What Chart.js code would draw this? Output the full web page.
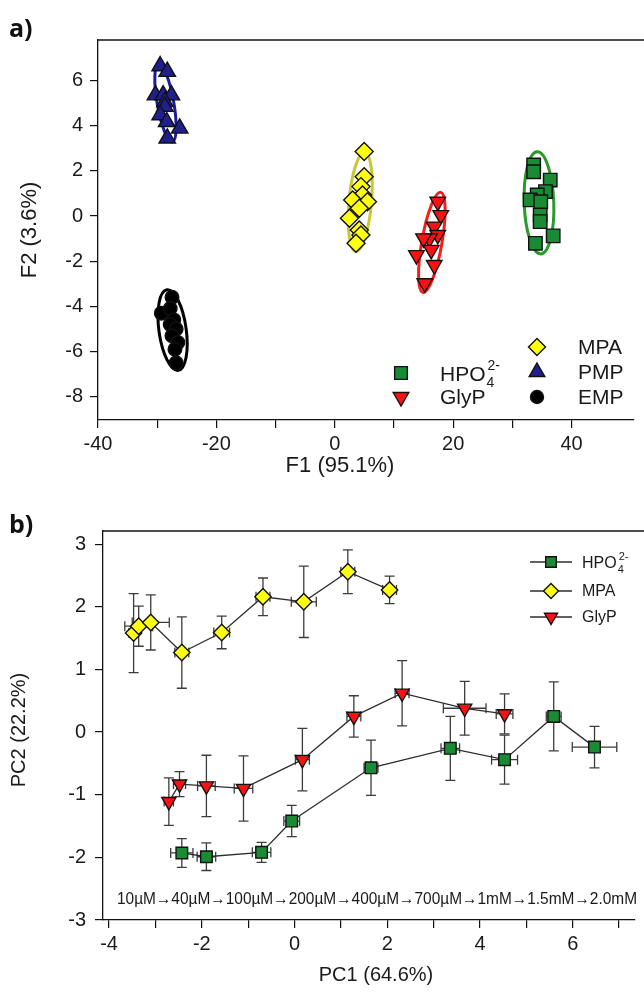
<!DOCTYPE html>
<html>
<head>
<meta charset="utf-8">
<script src="https://cdn.jsdelivr.net/npm/chart.js@4.4.0/dist/chart.umd.min.js"></script>
<style>
html, body { margin: 0; padding: 0; background: #fff; }
#wrap { position: relative; width: 644px; height: 994px; overflow: hidden; }
#chartA { position: absolute; left: 0; top: 0; }
#chartB { position: absolute; left: 0; top: 495px; }
</style>
</head>
<body>
<div id="wrap">
<canvas id="chartA" width="644" height="495"></canvas>
<canvas id="chartB" width="644" height="499"></canvas>
</div>
<script>
// ---------------------------------------------------------------
// a) LDA scores (F1, F2)
var hpoF1  = [33.6, 33.6, 36.4, 35.6, 34.2, 33.0, 34.8, 34.7, 34.7, 36.9, 33.9];
var hpoF2  = [2.26, 1.96, 1.59, 1.08, 0.93, 0.71, 0.63, 0.04, -0.25, -0.88, -1.21];
var glypF1 = [17.4, 17.9, 16.8, 17.4, 16.0, 15.0, 16.3, 13.8, 16.8, 15.2];
var glypF2 = [0.63, 0.04, -0.47, -0.84, -0.99, -0.99, -1.5, -1.73, -2.17, -2.98];
var mpaF1  = [4.97, 4.97, 4.42, 4.69, 3.03, 5.52, 4.14, 2.48, 4.14, 4.42, 3.59];
var mpaF2  = [2.85, 1.74, 1.30, 0.93, 0.71, 0.63, 0.34, -0.10, -0.62, -0.84, -1.21];
var pmpF1  = [-29.5, -28.3, -30.3, -29.0, -27.6, -28.7, -28.7, -29.5, -28.4, -26.2, -28.3];
var pmpF2  = [6.64, 6.39, 5.35, 5.35, 5.35, 5.06, 4.84, 4.47, 4.17, 3.88, 3.44];
var empF1  = [-29.3, -27.5, -27.8, -27.2, -27.8, -26.8, -27.5, -26.5, -27.0, -26.8];
var empF2  = [-4.3, -3.6, -4.1, -4.6, -4.8, -5.0, -5.3, -5.6, -5.9, -6.5];

// confidence ellipses: HPO4, GlyP, MPA, PMP, EMP
var ellipseF1     = [34.5, 16.4, 4.3, -28.6, -27.4];
var ellipseF2     = [0.58, -1.17, 0.62, 5.0, -5.05];
var ellipseHalfF1 = [2.5, 1.7, 1.9, 1.4, 2.3];
var ellipseHalfF2 = [2.26, 2.25, 2.2, 1.75, 1.8];
var ellipseTilt   = [-2, 10, 5, -10, -8];   // degrees

var xTicksA = [-40, -20, 0, 20, 40];
var xMinorA = [-30, -10, 10, 30];
var yTicksA = [-8, -6, -4, -2, 0, 2, 4, 6];

// b) PCA scores, 10uM -> 2.0mM
var concLabels = ['10\u00b5M', '40\u00b5M', '100\u00b5M', '200\u00b5M', '400\u00b5M', '700\u00b5M', '1mM', '1.5mM', '2.0mM'];
var hpoPC1    = [-2.43, -1.90, -0.71, -0.06, 1.65, 3.36, 4.53, 5.59, 6.47];
var hpoPC2    = [-1.93, -1.99, -1.92, -1.42, -0.57, -0.26, -0.44, 0.25, -0.24];
var hpoErrPC1 = [0.24, 0.2, 0.2, 0.17, 0.15, 0.2, 0.28, 0.16, 0.48];
var hpoErrPC2 = [0.23, 0.22, 0.16, 0.25, 0.44, 0.51, 0.39, 0.55, 0.33];
var mpaPC1    = [-3.47, -3.36, -3.10, -2.43, -1.57, -0.68, 0.20, 1.15, 2.05];
var mpaPC2    = [1.58, 1.69, 1.75, 1.27, 1.59, 2.16, 2.08, 2.56, 2.27];
var mpaErrPC1 = [0.1, 0.3, 0.4, 0.15, 0.17, 0.15, 0.27, 0.15, 0.15];
var mpaErrPC2 = [0.63, 0.32, 0.44, 0.57, 0.26, 0.3, 0.57, 0.35, 0.22];
var glypPC1    = [-2.71, -2.48, -1.90, -1.10, 0.17, 1.28, 2.32, 3.67, 4.53];
var glypPC2    = [-1.11, -0.83, -0.86, -0.90, -0.44, 0.25, 0.62, 0.38, 0.29];
var glypErrPC1 = [0.1, 0.13, 0.19, 0.2, 0.15, 0.15, 0.15, 0.46, 0.18];
var glypErrPC2 = [0.38, 0.2, 0.49, 0.52, 0.5, 0.33, 0.52, 0.43, 0.32];

var xTicksB = [-4, -2, 0, 2, 4, 6];
var xMinorB = [-3, -1, 1, 3, 5, 7];
var yTicksB = [-3, -2, -1, 0, 1, 2, 3];

// ---------------------------------------------------------------
var FONT = '"Liberation Sans", Arial, sans-serif';
var GREEN = '#1b8a35', RED = '#ff1010', YELLOW = '#ffff10', NAVY = '#1f1f8f';

var _points = function( xs, ys, xe, ye ){
    var out = [], i;
    for( i = 0; i < xs.length; i++ ){
        out.push({ x: xs[i], y: ys[i], xErr: xe ? xe[i] : 0, yErr: ye ? ye[i] : 0 });
    }
    return out;
};

var _tickList = function( major, minor ){
    return major.concat(minor).sort(function(a, b){ return a - b; }).map(function(v){ return { value: v }; });
};

// HPO4 with subscript 4 and superscript 2-
var _drawFormula = function( ctx, x, y, size ){
    ctx.font = size + 'px ' + FONT;
    ctx.textAlign = 'left';
    ctx.textBaseline = 'alphabetic';
    ctx.fillText('HPO', x, y);
    var w = ctx.measureText('HPO').width + 1;
    ctx.font = Math.round(size * 0.68) + 'px ' + FONT;
    ctx.fillText('4', x + w, y + size * 0.3);
    ctx.fillText('2-', x + w + 1, y - size * 0.5);
};

var _axisCommon = function( size ){
    return {
        grid: { drawOnChartArea: false, drawTicks: true, tickLength: 8, color: '#111', lineWidth: 1.2 },
        border: { display: true, color: '#111', width: 1.3 },
        ticks: { color: '#1a1a1a', font: { family: FONT, size: size } }
    };
};

// frame top line + labels drawn with the chart
var framePlugin = {
    id: 'frame',
    afterDraw: function( chart ){
        var ctx = chart.ctx, a = chart.chartArea, opt = chart.options.plugins.frame;
        ctx.save();
        ctx.strokeStyle = '#111';
        ctx.lineWidth = 1.3;
        ctx.beginPath();
        ctx.moveTo(a.left, a.top);
        ctx.lineTo(chart.width, a.top);
        ctx.stroke();

        ctx.fillStyle = '#111';
        ctx.font = 'bold 25px "Open Sans", sans-serif';
        ctx.textAlign = 'left';
        ctx.textBaseline = 'alphabetic';
        ctx.fillText(opt.panel, 9, opt.panelY);

        ctx.fillStyle = '#1a1a1a';
        ctx.font = opt.titleSize + 'px ' + FONT;
        ctx.textAlign = 'center';
        ctx.textBaseline = 'middle';
        ctx.fillText(opt.xTitle, opt.xTitlePos[0], opt.xTitlePos[1]);
        ctx.translate(opt.yTitlePos[0], opt.yTitlePos[1]);
        ctx.rotate(-Math.PI / 2);
        ctx.fillText(opt.yTitle, 0, 0);
        ctx.restore();
    }
};

var ellipsePlugin = {
    id: 'ellipses',
    beforeDatasetsDraw: function( chart ){
        var ctx = chart.ctx, xs = chart.scales.x, ys = chart.scales.y;
        var colors = chart.options.plugins.ellipses.colors;
        ctx.save();
        ctx.lineWidth = 3;
        for( var i = 0; i < ellipseF1.length; i++ ){
            var cx = xs.getPixelForValue(ellipseF1[i]), cy = ys.getPixelForValue(ellipseF2[i]);
            var rx = Math.abs(xs.getPixelForValue(ellipseF1[i] + ellipseHalfF1[i]) - cx);
            var ry = Math.abs(ys.getPixelForValue(ellipseF2[i] + ellipseHalfF2[i]) - cy);
            ctx.strokeStyle = colors[i];
            ctx.beginPath();
            ctx.ellipse(cx, cy, rx, ry, ellipseTilt[i] * Math.PI / 180, 0, Math.PI * 2);
            ctx.stroke();
        }
        ctx.restore();
    }
};

var errorBarPlugin = {
    id: 'errorBars',
    beforeDatasetsDraw: function( chart ){
        var ctx = chart.ctx, xs = chart.scales.x, ys = chart.scales.y, cap = 5;
        ctx.save();
        ctx.strokeStyle = '#3c3c3c';
        ctx.lineWidth = 1.3;
        chart.data.datasets.forEach(function( ds ){
            ds.data.forEach(function( p ){
                var px = xs.getPixelForValue(p.x), py = ys.getPixelForValue(p.y);
                var y0 = ys.getPixelForValue(p.y - p.yErr), y1 = ys.getPixelForValue(p.y + p.yErr);
                var x0 = xs.getPixelForValue(p.x - p.xErr), x1 = xs.getPixelForValue(p.x + p.xErr);
                ctx.beginPath();
                ctx.moveTo(px, y0); ctx.lineTo(px, y1);
                ctx.moveTo(px - cap, y0); ctx.lineTo(px + cap, y0);
                ctx.moveTo(px - cap, y1); ctx.lineTo(px + cap, y1);
                ctx.moveTo(x0, py); ctx.lineTo(x1, py);
                ctx.moveTo(x0, py - cap); ctx.lineTo(x0, py + cap);
                ctx.moveTo(x1, py - cap); ctx.lineTo(x1, py + cap);
                ctx.stroke();
            });
        });
        ctx.restore();
    }
};

// legend drawn by hand because of the HPO4 2- label
var legendPlugin = {
    id: 'handLegend',
    afterDraw: function( chart ){
        var ctx = chart.ctx, opt = chart.options.plugins.handLegend;
        ctx.save();
        opt.items.forEach(function( it ){
            var ds = chart.data.datasets[it.index];
            if( opt.lines ){
                ctx.strokeStyle = ds.borderColor;
                ctx.lineWidth = ds.borderWidth;
                ctx.beginPath();
                ctx.moveTo(it.mx - 21, it.y);
                ctx.lineTo(it.mx + 21, it.y);
                ctx.stroke();
            }
            ctx.fillStyle = ds.pointBackgroundColor;
            ctx.strokeStyle = ds.pointBorderColor;
            ctx.lineWidth = ds.pointBorderWidth;
            Chart.helpers.drawPoint(ctx, {
                pointStyle: ds.pointStyle,
                radius: opt.radius[it.index],
                rotation: ds.pointRotation || 0,
                borderWidth: ds.pointBorderWidth
            }, it.mx, it.y);
            ctx.fillStyle = '#1a1a1a';
            if( ds.label === 'HPO4' ){
                _drawFormula(ctx, it.tx, it.y + opt.size * 0.36, opt.size);
            }else{
                ctx.font = opt.size + 'px ' + FONT;
                ctx.textAlign = 'left';
                ctx.textBaseline = 'middle';
                ctx.fillText(ds.label, it.tx, it.y + 1);
            }
        });
        ctx.restore();
    }
};

var concPlugin = {
    id: 'concText',
    afterDraw: function( chart ){
        var ctx = chart.ctx;
        ctx.save();
        ctx.fillStyle = '#1a1a1a';
        ctx.font = '17px ' + FONT;
        ctx.textAlign = 'left';
        ctx.textBaseline = 'alphabetic';
        ctx.fillText(concLabels.join('\u2192'), 117, 409, 520);
        ctx.restore();
    }
};

var _markerSet = function( label, data, style, color, radius, rotation, withLine ){
    return {
        label: label,
        data: data,
        showLine: !!withLine,
        borderColor: '#2e2e2e',
        borderWidth: 1.3,
        pointStyle: style,
        pointRotation: rotation || 0,
        pointRadius: radius,
        pointHoverRadius: radius,
        pointBackgroundColor: color,
        pointBorderColor: '#111',
        pointBorderWidth: 1.4
    };
};

// ---------------------------------------------------------------
var axA = _axisCommon(20), ayA = _axisCommon(20);
var chartA = new Chart(document.getElementById('chartA'), {
    type: 'scatter',
    data: {
        datasets: [
            _markerSet('HPO4', _points(hpoF1, hpoF2), 'rect', GREEN, 9.5),
            _markerSet('GlyP', _points(glypF1, glypF2), 'triangle', RED, 9, 180),
            _markerSet('MPA', _points(mpaF1, mpaF2), 'rectRot', YELLOW, 9),
            _markerSet('PMP', _points(pmpF1, pmpF2), 'triangle', NAVY, 9.5),
            _markerSet('EMP', _points(empF1, empF2), 'circle', '#000', 6.8)
        ]
    },
    options: {
        responsive: false,
        animation: false,
        layout: { padding: { left: 0, top: 40, right: 0, bottom: 0 } },
        plugins: {
            legend: { display: false },
            tooltip: { enabled: false },
            frame: { panel: 'a)', panelY: 37, titleSize: 22, xTitle: 'F1 (95.1%)', xTitlePos: [340, 466],
                     yTitle: 'F2 (3.6%)', yTitlePos: [30, 230] },
            ellipses: { colors: ['#2a9a2a', '#ff1a1a', '#c9c832', '#1b1ba0', '#000'] },
            handLegend: {
                size: 21, lines: false,
                radius: [9, 9, 8.5, 9, 6.5],
                items: [
                    { index: 2, mx: 537, tx: 578, y: 347 },
                    { index: 0, mx: 401, tx: 440, y: 373 },
                    { index: 3, mx: 537, tx: 578, y: 372 },
                    { index: 1, mx: 401, tx: 440, y: 397 },
                    { index: 4, mx: 537, tx: 578, y: 397 }
                ]
            }
        },
        scales: {
            x: Object.assign(axA, {
                type: 'linear', min: -40, max: 50.4,
                afterBuildTicks: function( s ){ s.ticks = _tickList(xTicksA, xMinorA); },
                afterFit: function( s ){ s.height = 75; },
                ticks: Object.assign(axA.ticks, { padding: 4, maxRotation: 0,
                    callback: function( v ){ return xTicksA.indexOf(v) >= 0 ? String(v) : ''; } })
            }),
            y: Object.assign(ayA, {
                type: 'linear', min: -9.03, max: 7.79,
                afterBuildTicks: function( s ){ s.ticks = _tickList(yTicksA, []); },
                afterFit: function( s ){ s.width = 98; },
                ticks: Object.assign(ayA.ticks, { padding: 7 })
            })
        }
    },
    plugins: [ellipsePlugin, framePlugin, legendPlugin]
});

var axB = _axisCommon(20), ayB = _axisCommon(20);
var chartB = new Chart(document.getElementById('chartB'), {
    type: 'scatter',
    data: {
        datasets: [
            _markerSet('HPO4', _points(hpoPC1, hpoPC2, hpoErrPC1, hpoErrPC2), 'rect', GREEN, 8.2, 0, true),
            _markerSet('MPA', _points(mpaPC1, mpaPC2, mpaErrPC1, mpaErrPC2), 'rectRot', YELLOW, 8.2, 0, true),
            _markerSet('GlyP', _points(glypPC1, glypPC2, glypErrPC1, glypErrPC2), 'triangle', RED, 8.2, 180, true)
        ]
    },
    options: {
        responsive: false,
        animation: false,
        layout: { padding: { left: 0, top: 36, right: 0, bottom: 0 } },
        plugins: {
            legend: { display: false },
            tooltip: { enabled: false },
            frame: { panel: 'b)', panelY: 38, titleSize: 20, xTitle: 'PC1 (64.6%)', xTitlePos: [376, 480],
                     yTitle: 'PC2 (22.2%)', yTitlePos: [19, 235] },
            handLegend: {
                size: 16, lines: true,
                radius: [7.5, 7.5, 7.5],
                items: [
                    { index: 0, mx: 551, tx: 582, y: 67 },
                    { index: 1, mx: 551, tx: 582, y: 96 },
                    { index: 2, mx: 551, tx: 582, y: 122 }
                ]
            }
        },
        scales: {
            x: Object.assign(axB, {
                type: 'linear', min: -4.13, max: 7.33,
                afterBuildTicks: function( s ){ s.ticks = _tickList(xTicksB, xMinorB); },
                afterFit: function( s ){ s.height = 74; },
                ticks: Object.assign(axB.ticks, { padding: 4, maxRotation: 0,
                    callback: function( v ){ return xTicksB.indexOf(v) >= 0 ? String(v) : ''; } })
            }),
            y: Object.assign(ayB, {
                type: 'linear', min: -3, max: 3.21,
                afterBuildTicks: function( s ){ s.ticks = _tickList(yTicksB, []); },
                afterFit: function( s ){ s.width = 103; },
                ticks: Object.assign(ayB.ticks, { padding: 9 })
            })
        }
    },
    plugins: [errorBarPlugin, framePlugin, legendPlugin, concPlugin]
});
</script>
</body>
</html>
